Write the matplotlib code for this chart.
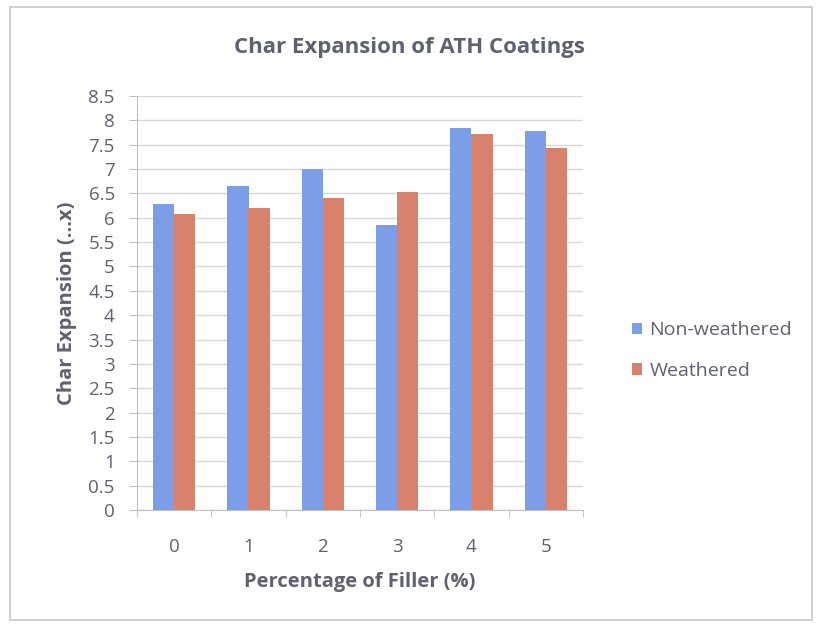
import matplotlib
matplotlib.use("Agg")
import matplotlib.pyplot as plt
import numpy as np
from matplotlib.patches import Rectangle

categories = ["0", "1", "2", "3", "4", "5"]
non_weathered = [6.28, 6.66, 7.01, 5.85, 7.84, 7.79]
weathered = [6.07, 6.20, 6.41, 6.53, 7.72, 7.43]
series_names = ["Non-weathered", "Weathered"]
yticks = np.arange(0, 8.51, 0.5)

blue = "#7C9EE8"
orange = "#D8826E"
text_gray = "#5F6170"
grid_gray = "#D9D9D9"

plt.rcParams['font.family'] = ['Open Sans', 'DejaVu Sans']

fig = plt.figure(figsize=(8.19, 6.24), dpi=100)
fig.patches.append(Rectangle((10/819, 1-620/624), 802/819, 613/624, transform=fig.transFigure,
                             fill=False, edgecolor="#C8C8C8", linewidth=1.2))
ax = fig.add_axes([137/819, 1-510/624, 446/819, 414/624])

x = np.arange(len(categories))
w = 0.285
ax.bar(x - w/2, non_weathered, w, color=blue, label=series_names[0], zorder=3)
ax.bar(x + w/2, weathered, w, color=orange, label=series_names[1], zorder=3)

ax.set_xlim(-0.5, len(categories) - 0.5)
ax.set_ylim(0, 8.5)
ax.set_yticks(yticks)
ax.set_yticklabels([f"{v:g}" for v in yticks], fontsize=13.5, color=text_gray)
ax.set_xticks(x)
ax.set_xticklabels(categories, fontsize=13.5, color=text_gray)
ax.set_xticks(np.arange(-0.5, len(categories)), minor=True)
ax.tick_params(axis='x', which='major', length=0, pad=20)
ax.tick_params(axis='x', which='minor', length=5, color="#BFBFBF", direction='out')
ax.tick_params(axis='y', length=6, color="#BFBFBF", pad=10)

ax.grid(axis='y', color=grid_gray, linewidth=1, zorder=0)
for s in ["top", "right"]:
    ax.spines[s].set_visible(False)
for s in ["left", "bottom"]:
    ax.spines[s].set_color("#BFBFBF")

fig.text(0.5, 1 - 47/624, "Char Expansion of ATH Coatings", fontsize=16, fontweight='bold',
         color=text_gray, ha='center', va='center')
ax.set_xlabel("Percentage of Filler (%)", fontsize=14.5, fontweight='bold',
              color=text_gray, labelpad=12)
ax.set_ylabel("Char Expansion (...x)", fontsize=14.5, fontweight='bold',
              color=text_gray, labelpad=8)

leg = ax.legend(loc='center left', bbox_to_anchor=(1.07, 0.385), frameon=False,
                fontsize=14, handlelength=0.55, handleheight=0.55, handletextpad=0.35,
                labelspacing=1.15, labelcolor=text_gray)

fig.savefig("out.png", dpi=100, facecolor="white")
